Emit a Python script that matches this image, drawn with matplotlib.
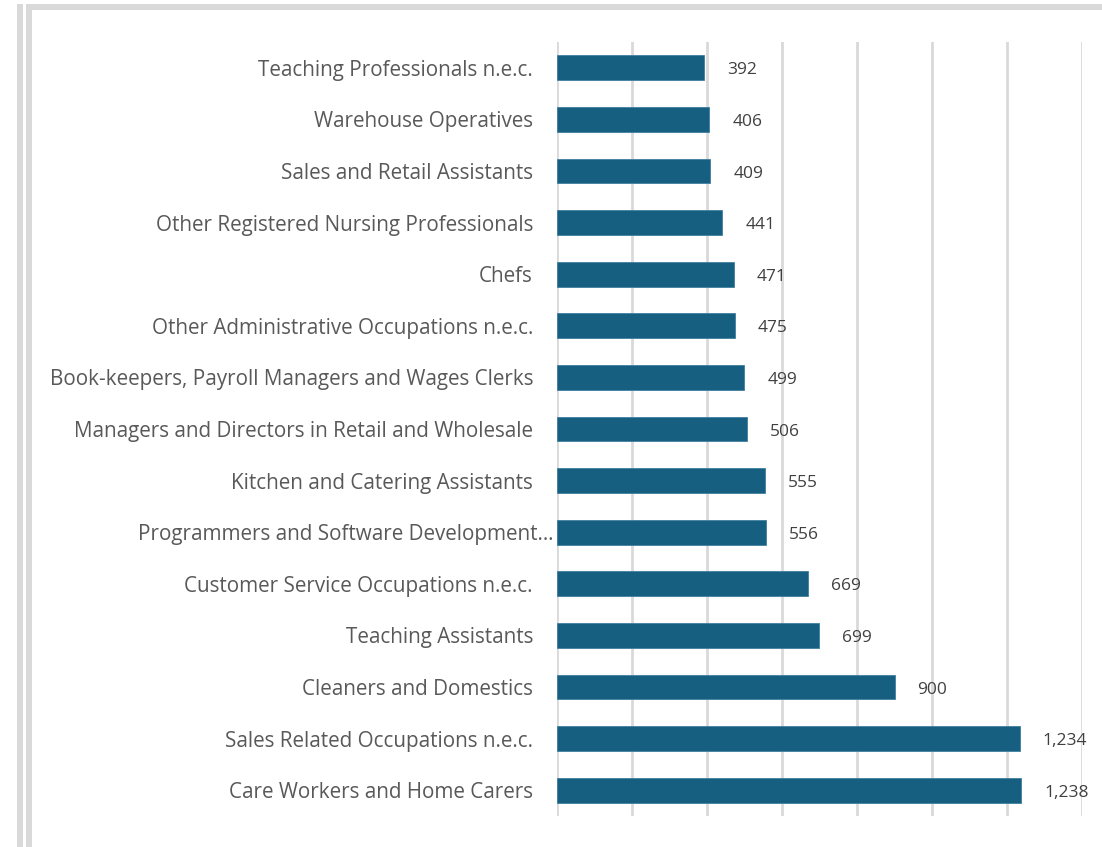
import matplotlib
matplotlib.use("Agg")
import matplotlib.pyplot as plt
from matplotlib.patches import Rectangle
from matplotlib.transforms import blended_transform_factory, offset_copy

categories = [
    "Teaching Professionals n.e.c.",
    "Warehouse Operatives",
    "Sales and Retail Assistants",
    "Other Registered Nursing Professionals",
    "Chefs",
    "Other Administrative Occupations n.e.c.",
    "Book-keepers, Payroll Managers and Wages Clerks",
    "Managers and Directors in Retail and Wholesale",
    "Kitchen and Catering Assistants",
    "Programmers and Software Development\u2026",
    "Customer Service Occupations n.e.c.",
    "Teaching Assistants",
    "Cleaners and Domestics",
    "Sales Related Occupations n.e.c.",
    "Care Workers and Home Carers",
]
values = [392, 406, 409, 441, 471, 475, 499, 506, 555, 556, 669, 699, 900, 1234, 1238]

W, H = 1102, 847
plt.rcParams['font.family'] = ['Open Sans', 'DejaVu Sans']
fig = plt.figure(figsize=(W / 100, H / 100), dpi=100)

ax_left, ax_right, ax_top, ax_bot = 557, 1082, 42, 816
ax = fig.add_axes([ax_left / W, 1 - ax_bot / H, (ax_right - ax_left) / W, (ax_bot - ax_top) / H])
ypos = list(range(len(categories)))
ax.barh(ypos, values, height=0.48, color="#175f80", edgecolor="#3f7fa0", linewidth=0.6, zorder=3)
ax.set_ylim(len(categories) - 0.5, -0.5)
ax.set_xlim(0, 1400)
ax.set_xticks(range(0, 1401, 200))
ax.set_xticklabels([])
ax.set_yticks([])
ax.tick_params(axis='x', length=0)
ax.grid(axis='x', color="#d9d9d9", linewidth=2, zorder=0)
for s in ax.spines.values():
    s.set_visible(False)

axw = ax_right - ax_left
trans = offset_copy(blended_transform_factory(ax.transAxes, ax.transData), fig=fig, x=0, y=-2.5, units='dots')
for y, name in zip(ypos, categories):
    right = 533 if not name.endswith("\u2026") else 553
    ax.text((right - ax_left) / axw, y, name, transform=trans, ha='right', va='center',
            fontsize=14.85, color="#595959", clip_on=False)

for y, v in zip(ypos, values):
    ax.annotate(f"{v:,}", (v, y), xytext=(23, -2.5), textcoords='offset pixels',
                va='center', ha='left', fontsize=12.5, color="#404040")

# frame borders (screenshot style)
c = "#d9d9d9"
fig.add_artist(Rectangle((17 / W, 0), 6 / W, 1 - 4 / H, transform=fig.transFigure, color=c, lw=0))
fig.add_artist(Rectangle((26 / W, 0), 6 / W, 1 - 4 / H, transform=fig.transFigure, color=c, lw=0))
fig.add_artist(Rectangle((26 / W, 1 - 10 / H), 1 - 26 / W, 6 / H, transform=fig.transFigure, color=c, lw=0))

fig.savefig("out.png", dpi=100)
